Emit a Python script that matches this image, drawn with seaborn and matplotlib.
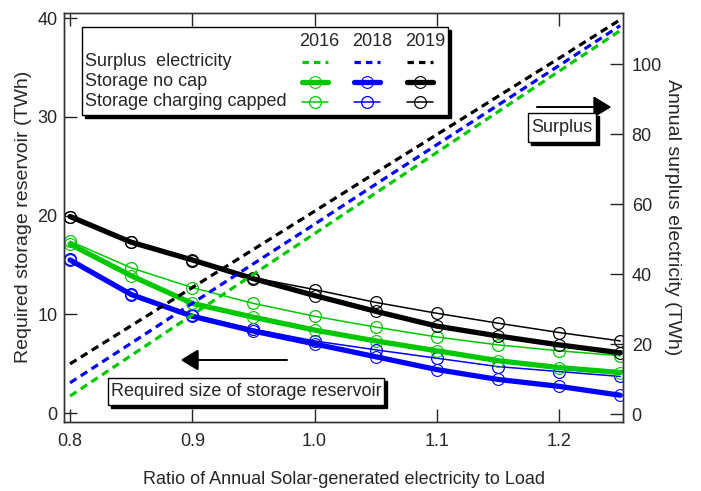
import numpy as np
import pandas as pd
import matplotlib
matplotlib.use("Agg")
import matplotlib.pyplot as plt
from matplotlib.patches import Rectangle
from matplotlib.lines import Line2D
import seaborn as sns

# ---------------- data ----------------
ratio = [0.80, 0.85, 0.90, 0.95, 1.00, 1.05, 1.10, 1.15, 1.20, 1.25]
years = ["2016", "2018", "2019"]

surplus_2016 = [5.2, 16.8, 28.4, 40.0, 51.6, 63.2, 74.8, 86.4, 98.0, 109.6]
surplus_2018 = [9.0, 20.3, 31.7, 43.0, 54.3, 65.7, 77.0, 88.3, 99.6, 111.0]
surplus_2019 = [14.4, 25.3, 36.2, 47.1, 58.0, 69.0, 79.9, 90.8, 101.7, 112.7]

nocap_2016 = [17.1, 13.9, 11.1, 9.7, 8.4, 7.3, 6.3, 5.3, 4.6, 4.1]
nocap_2018 = [15.5, 12.0, 9.8, 8.3, 7.0, 5.7, 4.4, 3.4, 2.7, 1.8]
nocap_2019 = [19.9, 17.3, 15.5, 13.6, 11.9, 10.3, 8.8, 7.8, 6.9, 6.1]

capped_2016 = [17.4, 14.7, 12.7, 11.1, 9.8, 8.7, 7.7, 6.9, 6.3, 5.8]
capped_2018 = [15.6, 12.1, 9.95, 8.5, 7.3, 6.4, 5.55, 4.7, 4.2, 3.7]
capped_2019 = [19.9, 17.3, 15.4, 13.7, 12.5, 11.2, 10.1, 9.1, 8.15, 7.3]

x_ticks = [0.8, 0.9, 1.0, 1.1, 1.2]
x_tick_labels = ["0.8", "0.9", "1.0", "1.1", "1.2"]
left_ticks = [0, 10, 20, 30, 40]
right_ticks = [0, 20, 40, 60, 80, 100]

colors = {"2016": "#00c800", "2018": "#0000ff", "2019": "#000000"}

surplus = {"2016": surplus_2016, "2018": surplus_2018, "2019": surplus_2019}
nocap = {"2016": nocap_2016, "2018": nocap_2018, "2019": nocap_2019}
capped = {"2016": capped_2016, "2018": capped_2018, "2019": capped_2019}

# ---------------- style ----------------
sns.set_style("ticks")
plt.rcParams["font.family"] = ["Liberation Sans", "DejaVu Sans"]
FS = 13
plt.rcParams["font.size"] = FS

W, H = 701, 491
L, R, T, B = 64.3, 622.7, 12.7, 422.0
fig = plt.figure(figsize=(W / 100, H / 100), dpi=100)
ax = fig.add_axes([L / W, 1 - B / H, (R - L) / W, (B - T) / H])
ax2 = ax.twinx()

def px(x, y):
    return (x / W, 1 - y / H)

DASH = (0, (2.4, 1.6))

# storage lines (left axis)
for yr in years:
    c = colors[yr]
    sns.lineplot(x=ratio, y=capped[yr], ax=ax, color=c, linewidth=1.1,
                 marker="o", markersize=8.5, markerfacecolor="none",
                 markeredgecolor=c, markeredgewidth=0.9, zorder=3)
for yr in years:
    c = colors[yr]
    sns.lineplot(x=ratio, y=nocap[yr], ax=ax, color=c, linewidth=3.8,
                 marker="o", markersize=8.5, markerfacecolor="none",
                 markeredgecolor=c, markeredgewidth=0.8, zorder=4)

# surplus lines (right axis)
for yr in years:
    sns.lineplot(x=ratio, y=surplus[yr], ax=ax2, color=colors[yr],
                 linewidth=2.3, linestyle=DASH)

ax.set_xlim(0.7953, 1.252)
ax.set_ylim(-0.91, 40.54)
ax2.set_ylim(-2.2, 114.7)

ax.set_xticks(x_ticks)
ax.set_xticklabels(x_tick_labels)
ax.set_yticks(left_ticks)
ax2.set_yticks(right_ticks)

ax.tick_params(axis="x", direction="in", top=True, bottom=True, length=9.5,
               width=1, pad=8, labelsize=FS)
ax.tick_params(axis="y", direction="in", left=True, right=False, length=9.5,
               width=1, pad=5, labelsize=FS)
ax2.tick_params(axis="y", direction="in", right=True, left=False, length=9.5,
                width=1, pad=6.5, labelsize=FS)
for a in (ax, ax2):
    for s in a.spines.values():
        s.set_visible(True)
        s.set_linewidth(1.0)
        s.set_color("#333333")

ax.set_xlabel("Ratio of Annual Solar-generated electricity to Load", fontsize=FS, labelpad=15)
ax.set_ylabel("Required storage reservoir (TWh)", fontsize=14, labelpad=4)
ax2.set_ylabel("Annual surplus electricity (TWh)", fontsize=14, rotation=-90, labelpad=14)

# ---------------- custom legend ----------------
def shadow_box(x0, y0, x1, y1, z=10):
    sx, sy = px(x0 + 3, y1 + 3)
    bx, by = px(x0, y1)
    wf = (x1 - x0) / W
    hf = (y1 - y0) / H
    fig.add_artist(Rectangle((sx, sy), wf, hf, transform=fig.transFigure,
                             facecolor="black", edgecolor="black", zorder=z))
    fig.add_artist(Rectangle((bx, by), wf, hf, transform=fig.transFigure,
                             facecolor="white", edgecolor="black", lw=1.0, zorder=z + 1))

shadow_box(82, 27, 448, 115)
col_centers = {"2016": 315, "2018": 367, "2019": 420}
hdr_centers = {"2016": 319, "2018": 372, "2019": 425}
for yr in years:
    fig.text(*px(hdr_centers[yr], 42), yr, ha="center", va="center", fontsize=FS, zorder=20)
row_labels = ["Surplus  electricity", "Storage no cap", "Storage charging capped"]
row_y = [62, 82, 102]
for lab, yy in zip(row_labels, row_y):
    fig.text(*px(85, yy), lab, ha="left", va="center", fontsize=FS, zorder=20)
for yr in years:
    c = colors[yr]
    cx = col_centers[yr]
    xs = [px(cx - 13, 0)[0], px(cx + 13, 0)[0]]
    fig.add_artist(Line2D(xs, [px(0, 62)[1]] * 2, color=c, lw=2.3,
                          linestyle=(0, (2.0, 1.6)), transform=fig.transFigure, zorder=21))
    fig.add_artist(Line2D(xs, [px(0, 82)[1]] * 2, color=c, lw=3.8,
                          transform=fig.transFigure, zorder=21))
    fig.add_artist(Line2D([px(cx, 0)[0]], [px(0, 82)[1]], color=c, marker="o",
                          markersize=8.5, markerfacecolor="none", markeredgewidth=0.8,
                          transform=fig.transFigure, zorder=22))
    fig.add_artist(Line2D(xs, [px(0, 102)[1]] * 2, color=c, lw=1.1,
                          transform=fig.transFigure, zorder=21))
    fig.add_artist(Line2D([px(cx, 0)[0]], [px(0, 102)[1]], color=c, marker="o",
                          markersize=8.5, markerfacecolor="none", markeredgewidth=0.9,
                          transform=fig.transFigure, zorder=22))

# ---------------- annotations ----------------
ARROW = dict(arrowstyle="-|>,head_length=0.9,head_width=0.55", color="black", lw=1.2,
             mutation_scale=12, shrinkA=0, shrinkB=0)
shadow_box(528, 113, 596, 142)
fig.text(*px(562, 128), "Surplus", ha="center", va="center", fontsize=FS, zorder=20)
fig.add_artist(plt.annotate("", xy=px(611, 107), xytext=px(537, 107),
                            xycoords="figure fraction", textcoords="figure fraction",
                            arrowprops=ARROW))

shadow_box(108, 378, 384, 405)
fig.text(*px(246, 391.5), "Required size of storage reservoir", ha="center", va="center",
         fontsize=FS, zorder=20)
fig.add_artist(plt.annotate("", xy=px(181, 360), xytext=px(287, 360),
                            xycoords="figure fraction", textcoords="figure fraction",
                            arrowprops=ARROW))

fig.savefig("out.png", dpi=100)
